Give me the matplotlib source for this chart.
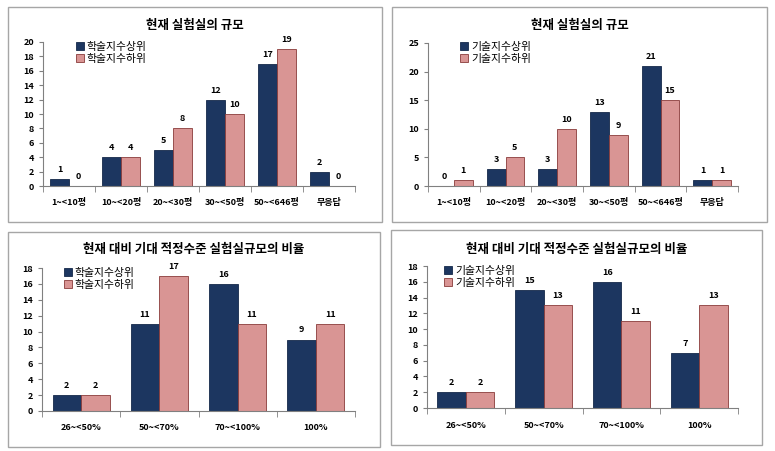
import numpy as np
import matplotlib.pyplot as plt
from matplotlib.patches import Rectangle

plt.rcParams['font.family'] = ['Noto Sans CJK KR', 'DejaVu Sans']

size_cats = ["1~<10평", "10~<20평", "20~<30평", "30~<50평", "50~<646평", "무응답"]
ratio_cats = ["26~<50%", "50~<70%", "70~<100%", "100%"]

acad_size_high = [1, 4, 5, 12, 17, 2]
acad_size_low = [0, 4, 8, 10, 19, 0]
tech_size_high = [0, 3, 3, 13, 21, 1]
tech_size_low = [1, 5, 10, 9, 15, 1]

acad_ratio_high = [2, 11, 16, 9]
acad_ratio_low = [2, 17, 11, 11]
tech_ratio_high = [2, 15, 16, 7]
tech_ratio_low = [2, 13, 11, 13]

title_size = "현재 실험실의 규모"
title_ratio = "현재 대비 기대 적정수준 실험실규모의 비율"

navy = '#1c3660'
pink = '#d99594'

W, H = 775, 451
fig = plt.figure(figsize=(W / 100, H / 100), dpi=100)


def px(x0, y0, x1, y1):
    # pixel box (top-left origin) -> figure fraction
    return [x0 / W, 1 - y1 / H, (x1 - x0) / W, (y1 - y0) / H]


def panel(box, ax_box, title, title_y, cats, hi, lo, names, ymax, step, leg_xy):
    b = px(*box)
    fig.patches.append(Rectangle((b[0], b[1]), b[2], b[3], transform=fig.transFigure,
                                 fill=False, edgecolor='#a6a6a6', lw=1.0))
    ax = fig.add_axes(px(*ax_box))
    x = np.arange(len(cats))
    w = 0.365
    ax.bar(x - w / 2, hi, w, color=navy, edgecolor='#15294a', lw=0.6, label=names[0])
    ax.bar(x + w / 2, lo, w, color=pink, edgecolor='#8a3b3a', lw=0.6, label=names[1])
    for i in range(len(cats)):
        ax.text(x[i] - w / 2, hi[i] + ymax * 0.035, str(hi[i]), ha='center', va='bottom',
                fontsize=6.5, fontweight='bold')
        ax.text(x[i] + w / 2, lo[i] + ymax * 0.035, str(lo[i]), ha='center', va='bottom',
                fontsize=6.5, fontweight='bold')
    ax.set_xlim(-0.5, len(cats) - 0.5)
    ax.set_ylim(0, ymax)
    ax.set_yticks(np.arange(0, ymax + 0.1, step))
    ax.set_xticks(x)
    ax.set_xticklabels(cats, fontsize=6.5, fontweight='bold')
    ax.set_xticks(np.arange(-0.5, len(cats), 1), minor=True)
    ax.tick_params(axis='x', which='major', length=0, pad=9)
    ax.tick_params(axis='x', which='minor', length=4, color='#808080')
    ax.tick_params(axis='y', labelsize=6.5, length=3, color='#808080')
    for t in ax.get_yticklabels():
        t.set_fontweight('bold')
    ax.spines['top'].set_visible(False)
    ax.spines['right'].set_visible(False)
    ax.spines['left'].set_color('#808080')
    ax.spines['bottom'].set_color('#808080')
    cx = (box[0] + box[2]) / 2
    fig.text(cx / W, 1 - title_y / H, title, ha='center', va='center',
             fontsize=9, fontweight='bold')
    ax.legend(loc='upper left', bbox_to_anchor=(leg_xy[0] / W, 1 - leg_xy[1] / H),
              bbox_transform=fig.transFigure, frameon=False, fontsize=7.8,
              handlelength=0.7, handleheight=0.7, handletextpad=0.3,
              labelspacing=0.15, borderaxespad=0, borderpad=0)
    return ax


panel((8, 7, 382, 222), (43, 42, 355, 186), title_size, 25, size_cats,
      acad_size_high, acad_size_low, ["학술지수상위", "학술지수하위"], 20, 2, (76, 42))
panel((392, 7, 767, 222), (428, 43, 738, 186), title_size, 25, size_cats,
      tech_size_high, tech_size_low, ["기술지수상위", "기술지수하위"], 25, 5, (460, 42))
panel((8, 232, 380, 447), (42, 268, 355, 411), title_ratio, 250, ratio_cats,
      acad_ratio_high, acad_ratio_low, ["학술지수상위", "학술지수하위"], 18, 2, (64, 268))
panel((391, 230, 762, 445), (427, 266, 738, 408), title_ratio, 249, ratio_cats,
      tech_ratio_high, tech_ratio_low, ["기술지수상위", "기술지수하위"], 18, 2, (444, 266))

fig.savefig('out.png', dpi=100, facecolor='white')
